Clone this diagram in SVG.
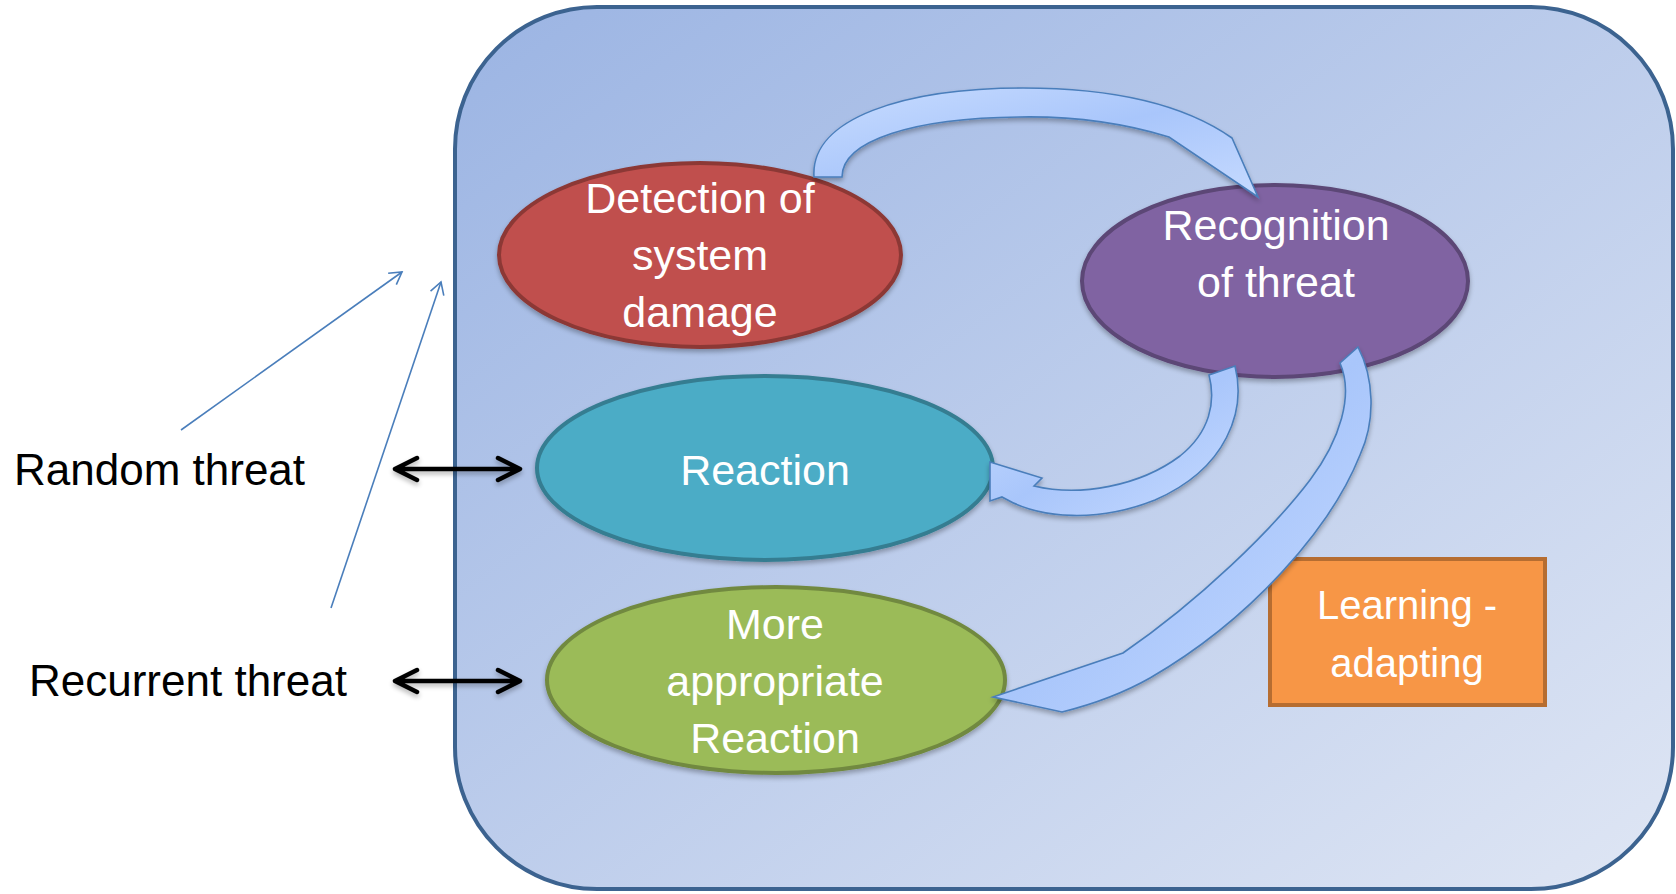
<svg xmlns="http://www.w3.org/2000/svg" width="1676" height="894" viewBox="0 0 1676 894">
<style>
.lbl{font-family:"Liberation Sans",Arial,sans-serif;font-size:44px;fill:#000}
.nt{font-family:"Liberation Sans",Arial,sans-serif;font-size:43px;fill:#fff;text-anchor:middle}
.blk{fill:url(#arrowGrad);stroke:#4a7ebb;stroke-width:1.6;stroke-linejoin:miter}
.thin{stroke:#4a7ebb;stroke-width:1.6;fill:none}
.dbl{stroke:#000;stroke-width:4.5;fill:none;stroke-linecap:round;stroke-linejoin:round}
</style>
<defs>
<linearGradient id="bgGrad" x1="0" y1="0" x2="1" y2="1">
<stop offset="0" stop-color="#9bb4e3"/>
<stop offset="1" stop-color="#dfe6f4"/>
</linearGradient>
<linearGradient id="arrowGrad" x1="0" y1="0" x2="1" y2="1">
<stop offset="0" stop-color="#c8dcff"/>
<stop offset="0.5" stop-color="#a9c6fb"/>
<stop offset="1" stop-color="#c6daff"/>
</linearGradient>
<filter id="sh" x="-10%" y="-10%" width="120%" height="130%">
<feGaussianBlur in="SourceAlpha" stdDeviation="2.5"/>
<feOffset dx="0" dy="3" result="b"/>
<feComponentTransfer><feFuncA type="linear" slope="0.3"/></feComponentTransfer>
<feMerge><feMergeNode/><feMergeNode in="SourceGraphic"/></feMerge>
</filter>
<marker id="openBlue" viewBox="0 0 16 16" refX="14" refY="8" markerWidth="16" markerHeight="16" markerUnits="userSpaceOnUse" orient="auto">
<path d="M2,1 L14,8 L2,15" fill="none" stroke="#4a7ebb" stroke-width="1.6"/>
</marker>
</defs>

<g id="container">
<rect x="455" y="7" width="1218" height="882" rx="142" ry="142" fill="url(#bgGrad)" stroke="#3c6390" stroke-width="4"/>
</g>

<g id="node-detection">
<ellipse cx="700" cy="255" rx="201" ry="92" fill="#c0504d" stroke="#8c3836" stroke-width="4" filter="url(#sh)"/>
<text class="nt" x="700" y="213">Detection of</text>
<text class="nt" x="700" y="270">system</text>
<text class="nt" x="700" y="327">damage</text>
</g>

<g id="node-recognition">
<ellipse cx="1275" cy="281" rx="193" ry="96" fill="#8064a2" stroke="#5c4776" stroke-width="4" filter="url(#sh)"/>
<text class="nt" x="1276" y="240">Recognition</text>
<text class="nt" x="1276" y="297">of threat</text>
</g>

<g id="node-reaction">
<ellipse cx="765" cy="468" rx="228" ry="92" fill="#4bacc6" stroke="#357d91" stroke-width="4" filter="url(#sh)"/>
<text class="nt" x="765" y="485">Reaction</text>
</g>

<g id="node-more">
<ellipse cx="776" cy="680" rx="229" ry="93" fill="#9bbb59" stroke="#71893f" stroke-width="4" filter="url(#sh)"/>
<text class="nt" x="775" y="639">More</text>
<text class="nt" x="775" y="696">appropriate</text>
<text class="nt" x="775" y="753">Reaction</text>
</g>

<g id="node-learning">
<rect x="1270" y="559" width="275" height="146" fill="#f79646" stroke="#b66d31" stroke-width="4"/>
<text class="nt" x="1407" y="619" style="font-size:40px">Learning -</text>
<text class="nt" x="1407" y="677" style="font-size:40px">adapting</text>
</g>

<g id="label-random">
<text class="lbl" x="14" y="485">Random threat</text>
</g>
<g id="label-recurrent">
<text class="lbl" x="29" y="696">Recurrent threat</text>
</g>

<g id="connectors">
<path class="blk" filter="url(#sh)" d="M814,177 C810,118 905,88 1023,88 C1115,88 1185,105 1232,138 L1258,197 L1169,137 C1120,122 1072,116 1019,117 C915,118 842,140 842,177 Z"/>
<path class="blk" filter="url(#sh)" d="M1209,375 L1235,366 C1246,410 1228,468 1155,500 C1100,522 1040,520 1002,497 L990,501 L990,462 L1042,478 L1034,486 C1080,497 1140,486 1180,456 C1210,432 1216,402 1209,375 Z"/>
<path class="blk" filter="url(#sh)" d="M1340,363 L1358,347 C1374,378 1376,420 1360,455 C1330,530 1250,620 1150,678 C1120,695 1090,705 1062,712 L993,697 L1123,653 C1200,600 1272,530 1310,480 C1340,440 1354,395 1340,363 Z"/>
<line class="thin" x1="181" y1="430" x2="402" y2="272" marker-end="url(#openBlue)"/>
<line class="thin" x1="331" y1="608" x2="441" y2="282" marker-end="url(#openBlue)"/>
<g filter="url(#sh)">
<path class="dbl" d="M395,469 H519 M417,458 L395,469 L417,480 M498,458 L520,469 L498,480"/>
<path class="dbl" d="M395,681 H519 M417,670 L395,681 L417,692 M498,670 L520,681 L498,692"/>
</g>
</g>
</svg>
